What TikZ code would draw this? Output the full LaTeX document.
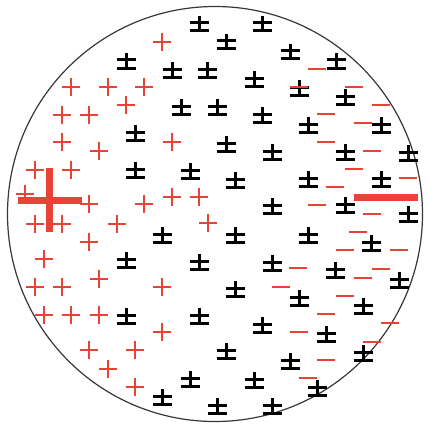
\documentclass[tikz,border=0pt]{standalone}
\definecolor{chred}{RGB}{233,67,55}
\definecolor{rim}{RGB}{55,55,55}
\begin{document}
\begin{tikzpicture}[x=1pt,y=-1pt,
  rimline/.style={draw=rim,line width=1.2pt},
  pmline/.style={draw=black,line width=3pt,line cap=butt},
  posline/.style={draw=chred,line width=2.7pt,line cap=butt},
  negline/.style={draw=chred,line width=2.8pt,line cap=butt},
  bigline/.style={draw=chred,line width=7pt,line cap=butt},
  pm/.pic={\draw[pmline] (0,-8)--(0,7) (-9.5,-1)--(9.5,-1) (-9.5,7)--(9.5,7);},
  plus/.pic={\draw[posline] (-9.25,0)--(9.25,0) (0,-9.25)--(0,9.25);},
  minus/.pic={\draw[negline] (-9,0)--(9,0);},
  bigplus/.pic={\draw[bigline] (-32,0)--(32,0) (0,-32)--(0,32);},
  bigminus/.pic={\draw[bigline] (-32,0)--(32,0);}
]
\useasboundingbox (0,0) rectangle (427,428);
\draw[rimline] (215,214) circle[radius=207.5];
% neutral (black) charges
\foreach \x/\y in {199/24,262/24,126/61,226/42,290/52,172/70,207/70,336/61,
  254/79,299/88,181/107,345/97,217/107,262/115,308/125,381/125,135/133,
  226/144,272/152,345/152,408/153,135/170,190/171,235/180,308/179,381/179,
  272/206,345/205,408/214,162/235,235/235,308/235,371/243,126/260,199/262,
  272/263,335/270,399/280,235/289,299/298,363/306,126/316,199/316,262/325,
  326/334,363/353,226/351,290/361,190/379,254/380,317/388,162/397,217/406,
  272/406}
  \pic at (\x,\y) {pm};
% positive charges
\foreach \x/\y in {162/42,71/87,108/87,144/87,126/105,62/115,89/115,172/142,
  62/142,99/151,35/170,71/170,25/194,89/204,144/204,172/197,199/197,35/224,
  62/224,117/224,208/223,89/242,44/259,99/279,35/287,62/287,162/287,44/315,
  71/315,99/315,162/332,89/350,135/350,108/369,135/387}
  \pic at (\x,\y) {plus};
% negative charges
\foreach \x/\y in {317/69,299/87,354/87,381/105,326/114,363/123,326/142,
  372/151,354/169,408/178,335/187,317/205,372/214,358/232,345/250,399/250,
  298/268,381/269,363/278,281/287,345/296,326/314,390/323,299/332,372/342,
  326/360,308/378}
  \pic at (\x,\y) {minus};
% large induced charges
\pic at (49.5,200) {bigplus};
\pic at (386,197) {bigminus};
\end{tikzpicture}
\end{document}
